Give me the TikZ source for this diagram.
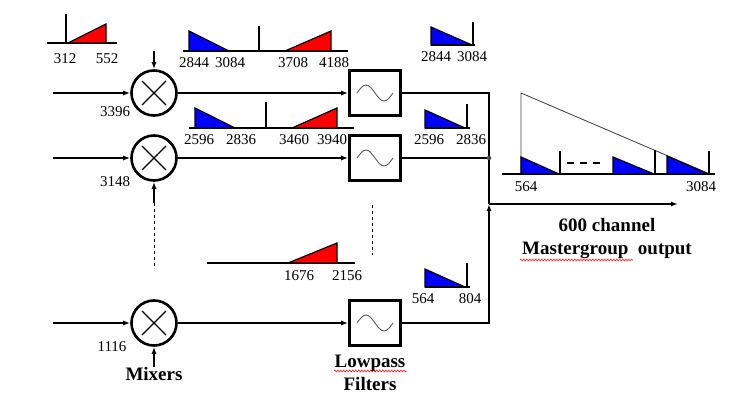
\documentclass[tikz,border=0pt]{standalone}
\usepackage{fontspec}
\setmainfont{Liberation Serif}
\usetikzlibrary{arrows.meta,decorations.pathmorphing,calc}
\begin{document}
\begin{tikzpicture}[x=1pt,y=-1pt,
  mixer/.style={circle, draw, line width=2.6pt, minimum size=45pt, inner sep=0pt,
    path picture={\draw[line width=1.3pt]
      ([shift={(-12pt,-12pt)}]path picture bounding box.center) -- ([shift={(12pt,12pt)}]path picture bounding box.center)
      ([shift={(-12pt,12pt)}]path picture bounding box.center) -- ([shift={(12pt,-12pt)}]path picture bounding box.center);}},
  filt/.style={draw, line width=2.6pt, minimum width=51pt, minimum height=45pt, inner sep=0pt,
    path picture={\draw[black!65, line width=0.9pt]
      ([xshift=-18pt]path picture bounding box.center) sin ++(9pt,8pt) cos ++(9pt,-8pt) sin ++(9pt,-8pt) cos ++(9pt,8pt);}},
  arr/.style={-{Latex[length=7pt,width=5pt]}, line width=1.3pt},
  bus/.style={line width=1.5pt},
  num/.style={font=\fontsize{15}{15}\selectfont, inner sep=0pt},
  lbl/.style={font=\fontsize{19}{23}\selectfont\bfseries, align=center, inner sep=0pt},
  base/.style={line width=1.8pt},
  carrier/.style={line width=1.8pt},
  bluetri/.style={fill=blue, draw=black, line width=1.2pt, line join=miter},
  redtri/.style={fill=red, draw=black, line width=1.2pt, line join=miter},
  wavy/.style={red, line width=0.5pt, decorate, decoration={zigzag, amplitude=1pt, segment length=3pt}}
]
\useasboundingbox (0,0) rectangle (744,404);

% mixers and filters
\node[mixer] (m1) at (154,93) {};
\node[mixer] (m2) at (154,158) {};
\node[mixer] (m3) at (154,323) {};
\node[filt] (f1) at (375,93) {};
\node[filt] (f2) at (375,158) {};
\node[filt] (f3) at (375,323) {};

% mixer inputs
\coordinate (i1) at (53,93);
\coordinate (i2) at (53,158);
\coordinate (i3) at (53,323);
\coordinate (t1) at (154,51);
\coordinate (b2) at (154,203);
\coordinate (d2) at (154,267);
\draw[arr] (i1) -- (m1.west);
\draw[arr] (i2) -- (m2.west);
\draw[arr] (i3) -- (m3.west);
\draw[arr] (t1) -- (m1.north);
\draw[arr] (b2) -- (m2.south);
\draw[dashed, line width=1pt] (b2) -- (d2);
\node[lbl] (mixlbl) at (154,374) {Mixers};
\draw[arr] (mixlbl.north) -- (m3.south);

\node[num] (l3396) at (115,112) {3396};
\node[num] (l3148) at (115,182) {3148};
\node[num] (l1116) at (112,347) {1116};

% mixer to filter
\draw[arr] (m1.east) -- (f1.west);
\draw[arr] (m2.east) -- (f2.west);
\draw[arr, line width=2.4pt] (m3.east) -- (f3.west);
\coordinate (d3a) at (372,205);
\coordinate (d3b) at (372,255);
\draw[dashed, line width=1pt] (d3a) -- (d3b);
\node[lbl] (flbl) at (370,373) {Lowpass\\Filters};
\draw[wavy] (334,371) -- (407,371);

% bus
\coordinate (c1) at (489,93);
\coordinate (c2) at (489,158);
\coordinate (c3) at (489,323);
\coordinate (j) at (489,204);
\coordinate (o) at (678,204);
\draw[bus] (f1.east) -- (c1) -- (j);
\draw[bus] (f2.east) -- (c2);
\draw[arr, line width=1.5pt] (f3.east) -- (c3) -- (j);
\draw[arr, line width=1.5pt] (j) -- (o);
\node[circle, fill=black!70, inner sep=1.6pt] (dot) at (c2) {};
\node[lbl] (outlbl) at (607,239) {600 channel\\Mastergroup\ \ output};
\draw[wavy] (520,260) -- (633,260);

% spectrum A (input)
\draw[base] (47,43) -- (117,43);
\draw[carrier] (66,14) -- (66,43);
\filldraw[redtri] (68,43) -- (106,43) -- (106,24) -- cycle;
\node[num] (a1) at (65,59) {312};
\node[num] (a2) at (107,59) {552};

% spectrum B
\draw[base] (183,51) -- (348,51);
\filldraw[bluetri] (189,51) -- (189,31) -- (229,51) -- cycle;
\draw[carrier] (259,26) -- (259,51);
\filldraw[redtri] (285,51) -- (331,51) -- (331,31) -- cycle;
\node[num] (b1) at (194,63) {2844};
\node[num] (bb2) at (230,63) {3084};
\node[num] (b3) at (293,63) {3708};
\node[num] (b4) at (334,63) {4188};

% spectrum C
\draw[base] (189,128) -- (354,128);
\filldraw[bluetri] (195,128) -- (195,108) -- (235,128) -- cycle;
\draw[carrier] (266,102) -- (266,128);
\filldraw[redtri] (292,128) -- (337,128) -- (337,108) -- cycle;
\node[num] (cc1) at (199,140) {2596};
\node[num] (cc2) at (241,140) {2836};
\node[num] (cc3) at (294,140) {3460};
\node[num] (cc4) at (332,140) {3940};

% spectrum D
\draw[line width=1.3pt] (207,263) -- (355,263);
\filldraw[redtri] (288,263) -- (337,263) -- (337,243) -- cycle;
\node[num] (dd1) at (299,276) {1676};
\node[num] (dd2) at (347,276) {2156};

% spectrum E
\filldraw[bluetri] (431,45) -- (431,27) -- (472,45) -- cycle;
\draw[base] (431,45) -- (475,45);
\draw[carrier] (473,22) -- (473,45);
\node[num] (e1) at (436,57) {2844};
\node[num] (e2) at (472,57) {3084};

% spectrum F
\filldraw[bluetri] (425,128) -- (425,110) -- (465,128) -- cycle;
\draw[base] (425,128) -- (470,128);
\draw[carrier] (467,104) -- (467,128);
\node[num] (ff1) at (429,140) {2596};
\node[num] (ff2) at (471,140) {2836};

% spectrum G
\filldraw[bluetri] (425,287) -- (425,269) -- (465,287) -- cycle;
\draw[base] (425,287) -- (470,287);
\draw[carrier] (467,263) -- (467,287);
\node[num] (g1) at (423,299) {564};
\node[num] (g2) at (470,299) {804};

% spectrum H (output)
\draw[black!75, line width=0.8pt] (521,174) -- (521,93) -- (710,174);
\draw[base] (502,174) -- (715,174);
\filldraw[bluetri] (521,174) -- (521,157) -- (559,174) -- cycle;
\draw[carrier] (560,151) -- (560,174);
\draw[line width=1.8pt, dash pattern=on 7pt off 6pt] (567,163) -- (604,163);
\filldraw[bluetri] (613,174) -- (613,157) -- (654,174) -- cycle;
\draw[carrier] (655,150) -- (655,174);
\filldraw[bluetri] (667,174) -- (667,156) -- (708,174) -- cycle;
\draw[carrier] (709,151) -- (709,174);
\node[num] (h1) at (526,187) {564};
\node[num] (h2) at (701,187) {3084};
\end{tikzpicture}
\end{document}
